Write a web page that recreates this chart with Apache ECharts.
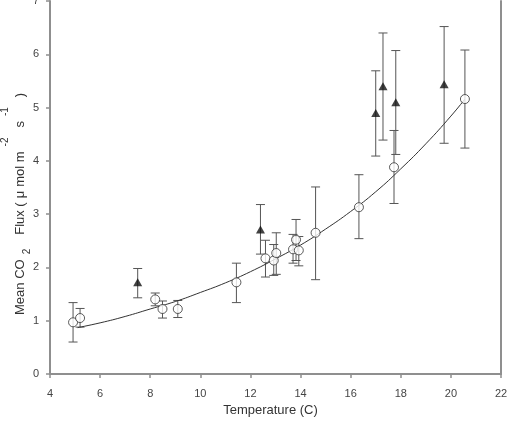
<!DOCTYPE html>
<html><head><meta charset="utf-8">
<script src="https://cdn.jsdelivr.net/npm/echarts@6/dist/echarts.min.js"></script>
<style>html,body{margin:0;padding:0;background:#fff}#c{width:526px;height:425px}</style>
</head><body><div id="c"></div>
<script>
// Open circles (mean flux) with error bar limits
const circleX  = [4.92, 5.20, 8.20, 8.49, 9.10, 11.44, 12.60, 12.93, 13.03, 13.70, 13.82, 13.93, 14.60, 16.33, 17.73, 20.56];
const circleY  = [0.97, 1.05, 1.40, 1.22, 1.22, 1.72, 2.17, 2.13, 2.27, 2.34, 2.52, 2.32, 2.65, 3.13, 3.88, 5.16];
const circleHi = [1.34, 1.23, 1.52, 1.37, 1.38, 2.08, 2.51, 2.43, 2.65, 2.62, 2.90, 2.58, 3.51, 3.74, 4.57, 6.08];
const circleLo = [0.60, 0.88, 1.28, 1.05, 1.06, 1.34, 1.82, 1.85, 1.87, 2.08, 2.13, 2.03, 1.77, 2.54, 3.20, 4.24];
// Filled triangles with error bar limits
const triX  = [7.50, 12.40, 17.00, 17.29, 17.80, 19.73];
const triY  = [1.72, 2.71, 4.90, 5.40, 5.10, 5.44];
const triHi = [1.98, 3.18, 5.69, 6.40, 6.07, 6.52];
const triLo = [1.43, 2.25, 4.09, 4.39, 4.12, 4.33];
// Fitted curve
const curveX = [5.1, 6, 7, 8, 9, 10, 11, 12, 13, 14, 15, 16, 17, 18, 19, 20, 20.56];
const curveY = [0.87, 0.96, 1.08, 1.22, 1.36, 1.53, 1.71, 1.92, 2.16, 2.42, 2.72, 3.05, 3.42, 3.85, 4.32, 4.84, 5.16];
// Axis settings
const xMin = 4, xMax = 22, xStep = 2;
const yMin = 0, yMax = 7, yStep = 1;
const xTitle = 'Temperature (C)';

const FONT = "'Liberation Sans', Arial, sans-serif";
const chart = echarts.init(document.getElementById('c'), null, {renderer: 'canvas'});

function errSeries(xs, lo, hi) {
  return {
    type: 'custom', silent: true, z: 1, clip: false,
    data: xs.map((x, i) => [x, lo[i], hi[i]]),
    encode: {x: 0, y: [1, 2]},
    renderItem: function (params, api) {
      const x = api.value(0);
      const pt = api.coord([x, api.value(2)]);
      const pb = api.coord([x, api.value(1)]);
      const w = 4.5;
      const st = {stroke: '#555', lineWidth: 1};
      return {type: 'group', children: [
        {type: 'line', shape: {x1: pt[0], y1: pt[1], x2: pb[0], y2: pb[1]}, style: st},
        {type: 'line', shape: {x1: pt[0] - w, y1: pt[1], x2: pt[0] + w, y2: pt[1]}, style: st},
        {type: 'line', shape: {x1: pb[0] - w, y1: pb[1], x2: pb[0] + w, y2: pb[1]}, style: st}
      ]};
    }
  };
}

const axisLineStyle = {color: '#8f8f8f', width: 2};

chart.setOption({
  animation: false,
  backgroundColor: '#fff',
  grid: {left: 50, right: 25, top: 1, bottom: 51, outerBoundsMode: 'none', containLabel: false},
  xAxis: {
    type: 'value', min: xMin, max: xMax, interval: xStep,
    name: xTitle, nameLocation: 'middle', nameGap: 28,
    nameTextStyle: {fontFamily: FONT, fontSize: 13, color: '#333', padding: [0, 10, 0, 0]},
    axisLine: {show: true, onZero: false, lineStyle: axisLineStyle},
    axisTick: {show: true, length: 4, lineStyle: {color: '#8f8f8f', width: 1.5}},
    axisLabel: {fontFamily: FONT, fontSize: 11, color: '#444', margin: 14},
    splitLine: {show: false}
  },
  yAxis: [{
    type: 'value', min: yMin, max: yMax, interval: yStep,
    axisLine: {show: true, onZero: false, lineStyle: axisLineStyle},
    axisTick: {show: true, length: 4, lineStyle: {color: '#8f8f8f', width: 1.5}},
    axisLabel: {fontFamily: FONT, fontSize: 11, color: '#444', margin: 11},
    splitLine: {show: false}
  }, {
    type: 'value', min: yMin, max: yMax, interval: yStep, position: 'right',
    axisLine: {show: true, onZero: false, lineStyle: axisLineStyle},
    axisTick: {show: false}, axisLabel: {show: false}, splitLine: {show: false}
  }],
  graphic: [{
    type: 'text', x: 20, y: 317, rotation: Math.PI / 2, silent: true,
    style: {
      text: '{a|Mean CO}{sub|2}{a|Flux (}{a|μ}{a|mol m}{sup|-2}{a|s}{sup|-1}{a|)}',
      align: 'left', verticalAlign: 'middle', fill: '#333',
      rich: {
        a: {fontFamily: FONT, fontSize: 13, lineHeight: 40, color: '#333', padding: [0, 2, 0, 2]},
        sub: {fontFamily: FONT, fontSize: 10, verticalAlign: 'middle', color: '#333', padding: [15, 12, 0, 3]},
        sup: {fontFamily: FONT, fontSize: 10, lineHeight: 10, verticalAlign: 'top', color: '#333', padding: [0, 8, 0, 3]}
      }
    }
  }],
  series: [
    errSeries(circleX, circleLo, circleHi),
    errSeries(triX, triLo, triHi),
    {
      type: 'line', data: curveX.map((x, i) => [x, curveY[i]]), smooth: true,
      symbol: 'none', lineStyle: {color: '#333', width: 1}, z: 2, silent: true
    },
    {
      type: 'scatter', data: triX.map((x, i) => [x, triY[i]]),
      symbol: 'triangle', symbolSize: [9, 8],
      itemStyle: {color: '#111'}, z: 3, silent: true
    },
    {
      type: 'scatter', data: circleX.map((x, i) => [x, circleY[i]]),
      symbol: 'circle', symbolSize: 9,
      itemStyle: {color: '#fff', borderColor: '#333', borderWidth: 1}, z: 4, silent: true
    }
  ]
});
</script>
</body></html>
